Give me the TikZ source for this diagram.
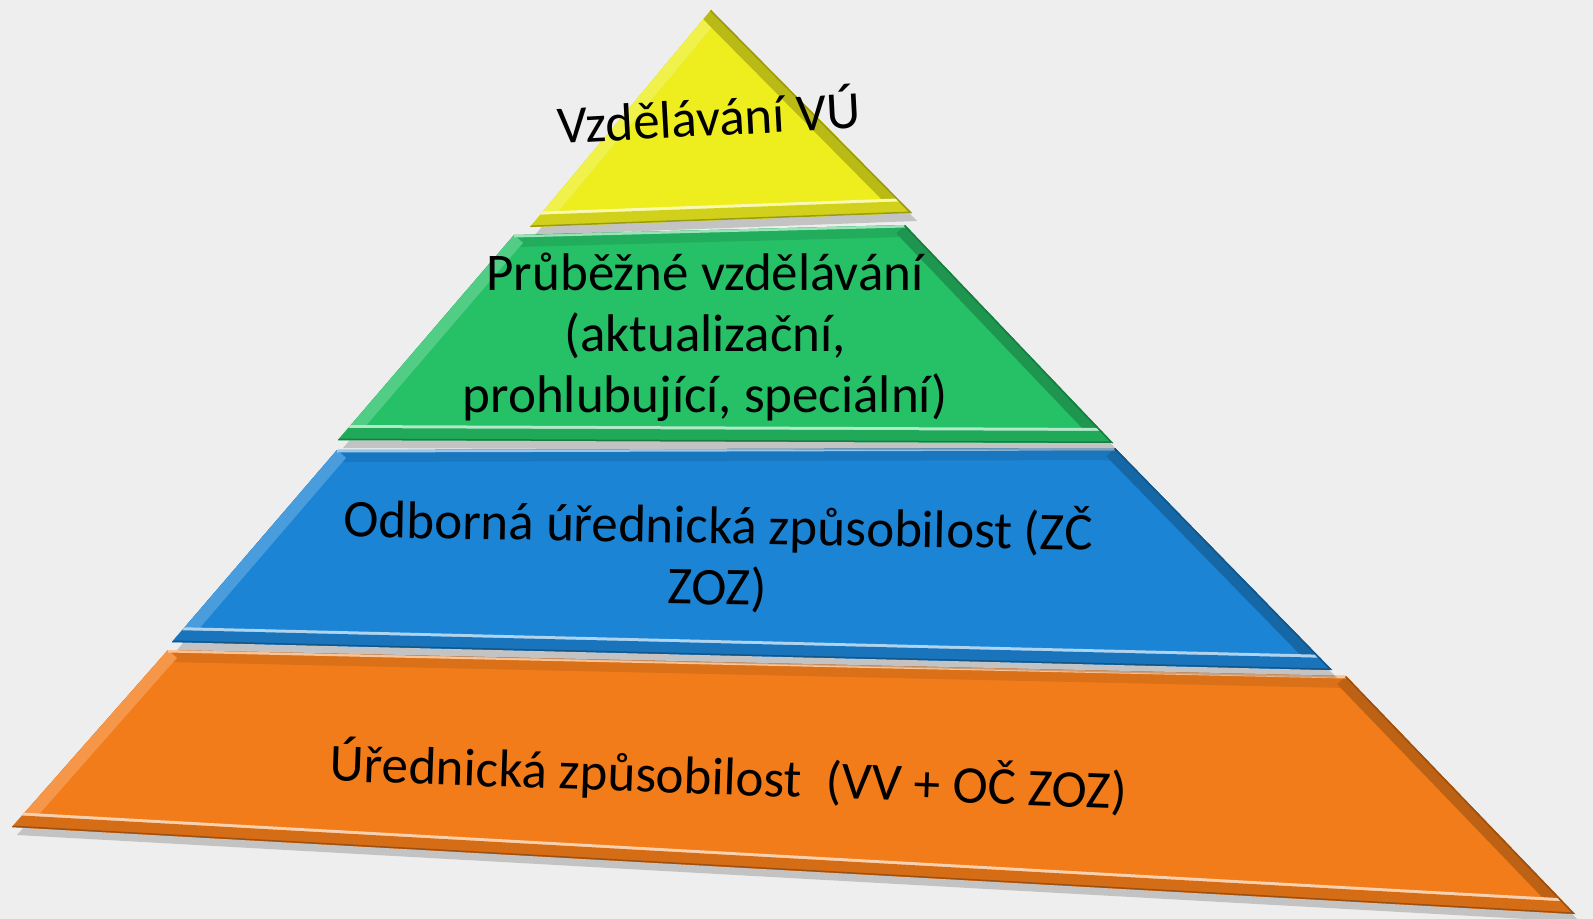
\documentclass[tikz,border=0pt]{standalone}
\usepackage{fontspec}
\setmainfont{Carlito}
\definecolor{bgpaper}{RGB}{238,238,238}
\definecolor{lyellow}{RGB}{238,238,30}
\definecolor{lgreen}{RGB}{38,192,102}
\definecolor{lblue}{RGB}{28,132,212}
\definecolor{lorange}{RGB}{242,124,26}

\begin{document}
\begin{tikzpicture}[x=0.5pt,y=-0.5pt,line join=round,
  layertext/.style={font=\fontsize{26.5}{30.5}\selectfont,align=center,text=black},
  dropshadow/.style={fill=black,opacity=.18}]
\fill[bgpaper] (0,0) rectangle (1593,919);
\useasboundingbox (0,0) rectangle (1593,919);
% corners of the layers (pixels of the original slide)
\coordinate (oTL) at (168,650);
\coordinate (oTR) at (1346,676);
\coordinate (oBR) at (1575,914);
\coordinate (oBL) at (12,827);
\coordinate (bTL) at (337,450);
\coordinate (bTR) at (1115,448);
\coordinate (bBR) at (1332,670);
\coordinate (bBL) at (172,642);
\coordinate (gTL) at (514,235);
\coordinate (gTR) at (905,225);
\coordinate (gBR) at (1113,443);
\coordinate (gBL) at (338,440);
\coordinate (yT) at (711,10);
\coordinate (yR) at (912,213);
\coordinate (yL) at (530,227);

\foreach \c/\p/\q/\r/\s in {lorange/oTL/oTR/oBR/oBL,lblue/bTL/bTR/bBR/bBL,
                            lgreen/gTL/gTR/gBR/gBL,lyellow/yT/yT/yR/yL}{
  \fill[dropshadow] ([shift={(5,8)}]\p) -- ([shift={(5,8)}]\q)
    -- ([shift={(5,8)}]\r) -- ([shift={(5,8)}]\s) -- cycle;
  \fill[\c] (\p) -- (\q) -- (\r) -- (\s) -- cycle;
  \begin{scope}
    \clip (\p) -- (\q) -- (\r) -- (\s) -- cycle;
    % bevel band, lit from the upper left
    \draw[line width=12pt,\c!90!black] (\p) -- (\q) -- (\r) -- (\s) -- cycle;
    \draw[line width=12pt,\c!80!white] (\s) -- (\p);
    \draw[line width=12pt,\c!78!black] (\q) -- (\r);
    \draw[line width=15pt,\c!35!white] (\s) -- (\r);
    \draw[line width=12pt,\c!88!black] (\s) -- (\r);
    \draw[line width=2.5pt,\c!45!white] (\p) -- (\q);
    \draw[line width=1.5pt,\c!65!black] (\q) -- (\r) -- (\s);
  \end{scope}
}

\node[layertext,rotate=3] (top) at (709,114) {Vzdělávání VÚ};
\node[layertext] (ongoing) at (705,337)
  {Průběžné vzdělávání\\(aktualizační,\\prohlubující, speciální)};
\node[layertext,rotate=-1] (expert) at (718,556)
  {Odborná úřednická způsobilost (ZČ\\ZOZ)};
\node[layertext,rotate=-2] (basic) at (729,777)
  {Úřednická způsobilost~~(VV + OČ ZOZ)};
\end{tikzpicture}
\end{document}
